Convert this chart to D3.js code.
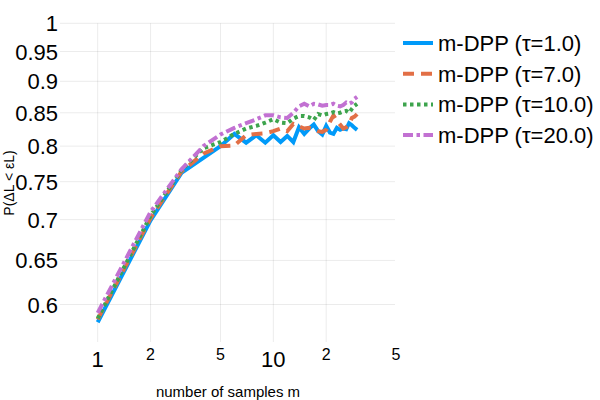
<!DOCTYPE html>
<html>
<head>
<meta charset="utf-8">
<script src="https://cdn.jsdelivr.net/npm/d3@7"></script>
<style>
  body { margin: 0; background: #fff; }
  text { font-family: "Liberation Sans", Arial, sans-serif; fill: #000; }
</style>
</head>
<body>
<div class="container"></div>
<script>
// number of samples m = 1..30
var samples = d3.range(1, 31);

var tau1 = [0.581, 0.699, 0.762, 0.783, 0.800, 0.818, 0.805, 0.816, 0.805, 0.816,
            0.806, 0.815, 0.806, 0.828, 0.818, 0.826, 0.832, 0.822, 0.817, 0.830,
            0.820, 0.818, 0.827, 0.824, 0.826, 0.825, 0.834, 0.831, 0.827, 0.824];
var tau7 = [0.584, 0.702, 0.764, 0.789, 0.800, 0.801, 0.816, 0.818, 0.819, 0.822,
            0.826, 0.822, 0.833, 0.829, 0.826, 0.827, 0.825, 0.822, 0.821, 0.824,
            0.836, 0.846, 0.838, 0.832, 0.826, 0.828, 0.832, 0.842, 0.844, 0.848];
var tau10 = [0.585, 0.705, 0.766, 0.797, 0.806, 0.818, 0.826, 0.830, 0.835, 0.840,
             0.835, 0.834, 0.841, 0.845, 0.845, 0.843, 0.839, 0.848, 0.846, 0.848,
             0.849, 0.851, 0.849, 0.850, 0.852, 0.853, 0.850, 0.856, 0.861, 0.864];
var tau20 = [0.591, 0.710, 0.767, 0.800, 0.817, 0.827, 0.834, 0.840, 0.846, 0.846,
             0.843, 0.842, 0.850, 0.860, 0.864, 0.860, 0.864, 0.863, 0.861, 0.862,
             0.862, 0.864, 0.861, 0.860, 0.862, 0.866, 0.864, 0.866, 0.872, 0.875];

var seriesNames = ["m-DPP (τ=1.0)", "m-DPP (τ=7.0)", "m-DPP (τ=10.0)", "m-DPP (τ=20.0)"];
var xTicks = [1, 2, 5, 10, 20, 50];
var xTickLabels = ["1", "2", "5", "10", "2", "5"];
var yTicks = [0.6, 0.65, 0.7, 0.75, 0.8, 0.85, 0.9, 0.95, 1];
var yTickLabels = ["0.6", "0.65", "0.7", "0.75", "0.8", "0.85", "0.9", "0.95", "1"];

var colors = ["#009af9", "#e26f46", "#3da44d", "#c271d2"];
var dashes = [null, "11,7", "3.5,3.5", "10,3.5,3.5,3.5"];

var W = 600, H = 400;
var svg = d3.select('.container').append('svg')
	.attr('width', W)
	.attr('height', H);

var plotL = 60, plotR = 395, plotT = 23.3, plotB = 342;

var x = d3.scaleLog().domain([0.61, 49.3]).range([plotL, plotR]);
var y = d3.scaleLog().domain([0.5605, 1]).range([plotB, plotT]);

// grid
var grid = svg.append('g');
grid.selectAll('.vg').data(xTicks.filter(function(d){ return x(d) < plotR - 1; }))
	.enter().append('line')
	.attr('x1', function(d){ return x(d); })
	.attr('x2', function(d){ return x(d); })
	.attr('y1', plotT)
	.attr('y2', plotB)
	.style('stroke', '#000')
	.style('stroke-opacity', 0.08)
	.style('stroke-width', 1);
grid.selectAll('.hg').data(yTicks)
	.enter().append('line')
	.attr('x1', plotL)
	.attr('x2', plotR)
	.attr('y1', function(d){ return y(d); })
	.attr('y2', function(d){ return y(d); })
	.style('stroke', '#000')
	.style('stroke-opacity', 0.08)
	.style('stroke-width', 1);

// x tick labels, decades drawn bigger
svg.selectAll('.xt').data(xTicks)
	.enter().append('text')
	.attr('x', function(d){ return x(d); })
	.attr('y', function(d){ return (d === 1 || d === 10) ? 367 : 360; })
	.attr('text-anchor', 'middle')
	.style('font-size', function(d){ return (d === 1 || d === 10) ? '22px' : '16px'; })
	.text(function(d, i){ return xTickLabels[i]; });

// y tick labels
svg.selectAll('.yt').data(yTicks)
	.enter().append('text')
	.attr('x', 58)
	.attr('y', function(d){ return y(d) + 8; })
	.attr('text-anchor', 'end')
	.style('font-size', '22px')
	.text(function(d, i){ return yTickLabels[i]; });

// axis titles
svg.append('text')
	.attr('x', 228)
	.attr('y', 397)
	.attr('text-anchor', 'middle')
	.style('font-size', '15px')
	.text('number of samples m');
svg.append('text')
	.attr('transform', 'translate(14,183) rotate(-90)')
	.attr('text-anchor', 'middle')
	.style('font-size', '14px')
	.text('P(ΔL < εL)');

// lines
var allSeries = [tau1, tau7, tau10, tau20];
var line = d3.line()
	.x(function(d, i){ return x(samples[i]); })
	.y(function(d){ return y(d); });

svg.append('g').selectAll('path').data(allSeries)
	.enter().append('path')
	.attr('d', line)
	.style('fill', 'none')
	.style('stroke', function(d, i){ return colors[i]; })
	.style('stroke-width', 4)
	.style('stroke-dasharray', function(d, i){ return dashes[i]; });

// legend
var legend = svg.append('g').selectAll('g').data(seriesNames)
	.enter().append('g')
	.attr('transform', function(d, i){ return 'translate(0,' + (43 + i * 30.7) + ')'; });
legend.append('line')
	.attr('x1', 403).attr('x2', 433)
	.attr('y1', 0).attr('y2', 0)
	.style('stroke', function(d, i){ return colors[i]; })
	.style('stroke-width', 4)
	.style('stroke-dasharray', function(d, i){ return dashes[i]; });
legend.append('text')
	.attr('x', 438)
	.attr('y', 8)
	.style('font-size', '22px')
	.text(function(d){ return d; });
</script>
</body>
</html>
